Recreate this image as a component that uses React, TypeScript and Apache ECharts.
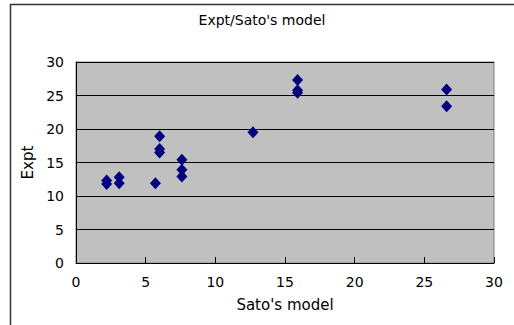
import React, { useEffect, useRef } from "react";
import * as echarts from "echarts";

const titleText = "Expt/Sato's model";
const xName = "Sato's model";
const yName = "Expt";
const xValues = [2.2, 2.2, 3.1, 3.1, 5.7, 6.0, 6.0, 6.0, 7.6, 7.6, 7.6, 12.7, 15.9, 15.9, 15.9, 26.6, 26.6];
const yValues = [12.3, 11.8, 12.8, 11.9, 11.9, 18.9, 17.0, 16.5, 15.4, 13.9, 12.9, 19.5, 27.3, 25.8, 25.4, 25.9, 23.4];

export default function App() {
  const ref = useRef<HTMLDivElement>(null);
  useEffect(() => {
    if (!ref.current) return;
    const chart = echarts.init(ref.current, undefined, { renderer: "svg" });
    const data = xValues.map((x, i) => [x, yValues[i]]);
    const font = "'DejaVu Sans', sans-serif";
    chart.setOption({
      animation: false,
      backgroundColor: "#ffffff",
      title: {
        text: titleText,
        left: 257,
        top: 8,
        textAlign: "center",
        textStyle: { fontSize: 14, fontWeight: "normal", color: "#000", fontFamily: font },
      },
      graphic: [
        {
          type: "rect",
          shape: { x: 10.5, y: 4.5, width: 520, height: 340 },
          style: { fill: "none", stroke: "#333", lineWidth: 1.5 },
          silent: true,
          z: 100,
        },
      ],
      grid: { left: 76, right: 20, top: 62, bottom: 62, show: true, backgroundColor: "#c0c0c0", borderColor: "#808080", borderWidth: 1 },
      xAxis: {
        type: "value",
        min: 0,
        max: 30,
        interval: 5,
        name: xName,
        nameLocation: "middle",
        nameGap: 34,
        nameTextStyle: { fontSize: 15, color: "#000", fontFamily: font },
        axisLine: { show: true, lineStyle: { color: "#000", width: 1 } },
        axisTick: { show: true, inside: true, length: 6, lineStyle: { color: "#000" } },
        axisLabel: { fontSize: 14, color: "#000", fontFamily: font, margin: 12 },
        splitLine: { show: false },
      },
      yAxis: {
        type: "value",
        min: 0,
        max: 30,
        interval: 5,
        name: yName,
        nameLocation: "middle",
        nameGap: 33,
        nameRotate: 90,
        nameTextStyle: { fontSize: 15, color: "#000", fontFamily: font },
        axisLine: { show: true, lineStyle: { color: "#000", width: 1 } },
        axisTick: { show: true, inside: true, length: 4, lineStyle: { color: "#000" } },
        axisLabel: { fontSize: 14, color: "#000", fontFamily: font, margin: 12 },
        splitLine: { show: true, lineStyle: { color: "#000", width: 1 } },
      },
      series: [
        {
          type: "scatter",
          data,
          symbol: "diamond",
          symbolSize: [11, 12],
          itemStyle: { color: "#000080", opacity: 1 },
        },
      ],
    });
    return () => chart.dispose();
  }, []);
  return <div ref={ref} style={{ position: "fixed", left: 0, top: 0, width: 514, height: 325 }} />;
}
